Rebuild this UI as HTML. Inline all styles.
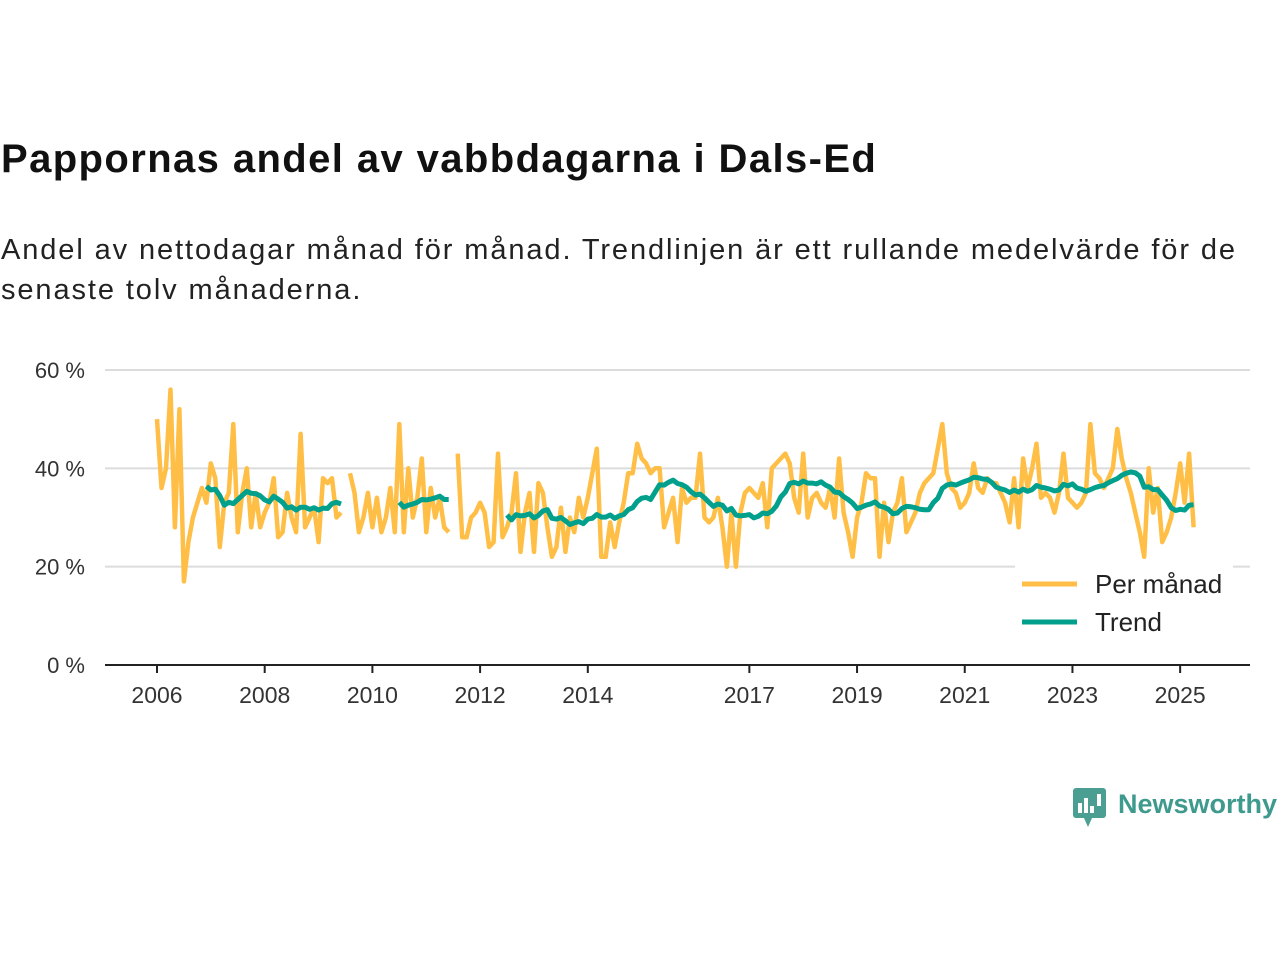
<!DOCTYPE html>
<html><head><meta charset="utf-8">
<style>
body{margin:0;width:1280px;height:960px;background:#fff;font-family:"Liberation Sans",sans-serif;overflow:hidden;position:relative}
#title{position:absolute;left:1px;top:137px;font-size:40px;font-weight:bold;color:#111;letter-spacing:1.4px}
#sub{position:absolute;left:1px;top:230px;font-size:29px;color:#222;line-height:40px;width:1245px;letter-spacing:1.9px}
svg{position:absolute;left:0;top:0}
</style></head><body>
<div id="title">Pappornas andel av vabbdagarna i Dals-Ed</div>
<div id="sub">Andel av nettodagar månad för månad. Trendlinjen är ett rullande medelvärde för de senaste tolv månaderna.</div>
<svg id="chart" width="1280" height="960"></svg>
<script>
const monthly = [
50,36,40,56,28,52,17,25,30,33,36,33,
41,38,24,33,35,49,27,35,40,28,35,28,
31,33,38,26,27,35,30,27,47,28,30,32,
25,38,37,38,30,31,null,39,35,27,30,35,
28,34,27,30,36,27,49,27,40,30,34,42,
27,36,30,34,28,27,null,43,26,26,30,31,
33,31,24,25,43,26,28,31,39,23,31,35,
23,37,35,28,22,24,32,23,30,27,34,30,
34,39,44,22,22,29,24,29,33,39,39,45,
42,41,39,40,40,28,31,34,25,36,33,34,
34,43,30,29,30,34,28,20,31,20,31,35,
36,35,34,37,28,40,41,42,43,41,34,31,
43,30,34,35,33,32,36,30,42,31,27,22,
30,33,39,38,38,22,33,25,31,33,38,27,
29,31,35,37,38,39,44,49,39,36,35,32,
33,35,41,36,35,38,37,37,35,33,29,38,
28,42,36,40,45,34,35,34,31,35,43,34,
33,32,33,35,49,39,38,36,38,40,48,42,
38,35,31,27,22,40,31,36,25,27,30,35,
41,33,43,28];
const startYear = 2006;
const yTicks = [0,20,40,60];
const yTickLabels = ["0 %","20 %","40 %","60 %"];
const xTicks = [2006,2008,2010,2012,2014,2017,2019,2021,2023,2025];
const seriesNames = ["Per månad","Trend"];

const svg = document.getElementById('chart');
const NS = 'http://www.w3.org/2000/svg';
const X0=157, PXY=53.85, Y0=665, PXP=4.917;
const xScale = t => X0 + (t - startYear)*PXY;
const xIdx = i => xScale(startYear + i/12);
const yScale = v => Y0 - v*PXP;
function mk(tag, attrs){const e=document.createElementNS(NS,tag);for(const k in attrs)e.setAttribute(k,attrs[k]);svg.appendChild(e);return e;}

yTicks.forEach((v,i)=>{
  if(v>0){const g=mk('line',{x1:105,x2:1250,y1:yScale(v),y2:yScale(v),stroke:'#dcdcdc','stroke-width':2});
  
  }
  const t=mk('text',{x:85,y:yScale(v)+8,'text-anchor':'end','font-size':22,fill:'#333'});
  t.textContent=yTickLabels[i];
  
  
});
const ax=mk('line',{x1:105,x2:1250,y1:Y0,y2:Y0,stroke:'#222','stroke-width':2});


xTicks.forEach(y=>{
  const tk=mk('line',{x1:xScale(y),x2:xScale(y),y1:Y0,y2:Y0+8,stroke:'#222','stroke-width':2});
  
  
  const t=mk('text',{x:xScale(y),y:Y0+38,'text-anchor':'middle','font-size':23,fill:'#333'});
  t.textContent=y;
  
  
});

function pathFor(arr){
  let d='',pen=false;
  arr.forEach((v,i)=>{
    if(v===null){pen=false;return;}
    d+=(pen?'L':'M')+xIdx(i).toFixed(1)+','+yScale(v).toFixed(1);pen=true;
  });
  return d;
}
const trend = monthly.map((v,i)=>{
  if(i<11)return null;
  const w=monthly.slice(i-11,i+1);
  if(w.some(x=>x===null))return null;
  return w.reduce((a,b)=>a+b,0)/12;
});
const p1=mk('path',{d:pathFor(monthly),fill:'none',stroke:'#FFBF47','stroke-width':4.5,'stroke-linejoin':'round'});


const p2=mk('path',{d:pathFor(trend),fill:'none',stroke:'#00A08C','stroke-width':5,'stroke-linejoin':'round'});



const lb=mk('rect',{x:1015,y:562,width:218,height:82,fill:'#fff'});


[['#FFBF47',584],['#00A08C',622]].forEach((c,i)=>{
  const l=mk('line',{x1:1022,x2:1077,y1:c[1],y2:c[1],stroke:c[0],'stroke-width':5});
  
  
  const t=mk('text',{x:1095,y:c[1]+9,'font-size':26,fill:'#222'});
  t.textContent=seriesNames[i];
  
  
});
</script>
<svg width="1280" height="960" style="position:absolute;left:0;top:0">
<rect x="1073" y="788" width="33" height="30" rx="3" fill="#4a9e92"/>
<polygon points="1084,818 1092,818 1088,827" fill="#4a9e92"/>
<rect x="1078" y="803" width="4" height="10" fill="#fff"/>
<rect x="1084" y="798" width="4" height="15" fill="#fff"/>
<rect x="1090" y="806" width="4" height="7" fill="#fff"/>
<rect x="1097" y="794" width="4" height="12" fill="#fff"/>
<text x="1118" y="813" font-size="27" font-weight="bold" fill="#3f9a8e" font-family="Liberation Sans, sans-serif">Newsworthy</text>
</svg>
</body></html>
